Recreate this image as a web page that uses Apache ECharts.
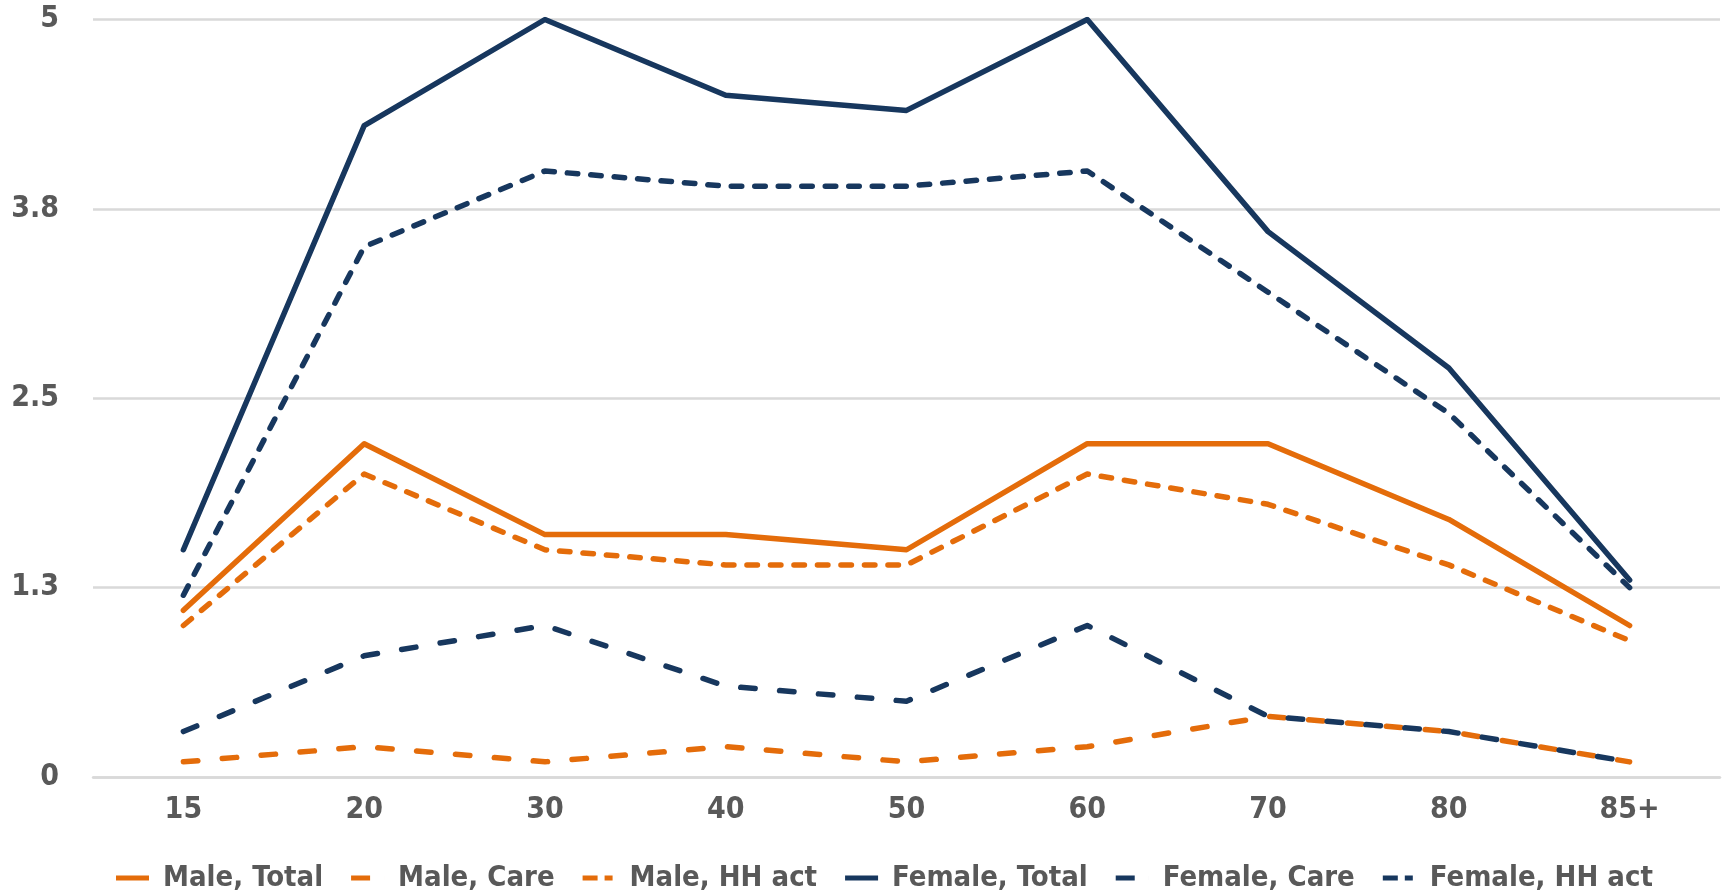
<!DOCTYPE html>
<html>
<head>
<meta charset="utf-8">
<script src="https://cdn.jsdelivr.net/npm/echarts@6/dist/echarts.min.js"></script>
<style>
html,body{margin:0;padding:0;background:#fff;}
#chart{width:1729px;height:893px;}
</style>
</head>
<body>
<div id="chart"></div>
<script>
const categories = ['15','20','30','40','50','60','70','80','85+'];
const maleTotal   = [1.1, 2.2, 1.6, 1.6, 1.5, 2.2, 2.2, 1.7, 1.0];
const maleCare    = [0.1, 0.2, 0.1, 0.2, 0.1, 0.2, 0.4, 0.3, 0.1];
const maleHH      = [1.0, 2.0, 1.5, 1.4, 1.4, 2.0, 1.8, 1.4, 0.9];
const femaleTotal = [1.5, 4.3, 5.0, 4.5, 4.4, 5.0, 3.6, 2.7, 1.3];
const femaleCare  = [0.3, 0.8, 1.0, 0.6, 0.5, 1.0, 0.4, 0.3, 0.1];
const femaleHH    = [1.2, 3.5, 4.0, 3.9, 3.9, 4.0, 3.2, 2.4, 1.25];
const yTickLabels = {0:'0', 1.25:'1.3', 2.5:'2.5', 3.75:'3.8', 5:'5'};

const ORANGE = '#E46C0A';
const NAVY = '#17375E';
const TEXT = '#595959';
const FONT = 'DejaVu Sans Condensed';

const ICON_SOLID = 'path://M0,0H33V5H0Z';
const ICON_CARE  = 'path://M0,0H19V5H0Z M32.99,0H33V5H32.99Z';
const ICON_HH    = 'path://M0,0H15V5H0Z M22,0H30V5H22Z M32.99,0H33V5H32.99Z';

function mk(name, data, color, type) {
  const ls = {color: color, width: 5.5, cap: 'round', join: 'round'};
  if (type === 'care') { ls.type = [14.5, 24.5]; }
  else if (type === 'hh') { ls.type = [10.5, 13]; }
  else { ls.type = 'solid'; }
  return {
    name: name, type: 'line', data: data, symbol: 'none', showSymbol: false,
    lineStyle: ls, itemStyle: {color: color}, animation: false
  };
}

const chart = echarts.init(document.getElementById('chart'));
chart.setOption({
  backgroundColor: '#fff',
  animation: false,
  grid: {left: 93, right: 9, top: 19.5, bottom: 116, containLabel: false},
  legend: {
    top: 857, left: 111,
    itemWidth: 33, itemHeight: 5, itemGap: 28, symbolKeepAspect: false,
    textStyle: {color: TEXT, fontFamily: FONT, fontWeight: 'bold', fontSize: 29, lineHeight: 32, padding: [0,0,0,9]},
    data: [
      {name: 'Male, Total', icon: ICON_SOLID},
      {name: 'Male, Care', icon: ICON_CARE},
      {name: 'Male, HH act', icon: ICON_HH},
      {name: 'Female, Total', icon: ICON_SOLID},
      {name: 'Female, Care', icon: ICON_CARE},
      {name: 'Female, HH act', icon: ICON_HH}
    ]
  },
  xAxis: {
    type: 'category', data: categories, boundaryGap: true,
    axisLine: {show: true, lineStyle: {color: '#D9D9D9', width: 2.5}},
    axisTick: {show: false},
    axisLabel: {color: TEXT, fontFamily: FONT, fontWeight: 'bold', fontSize: 30, margin: 18}
  },
  yAxis: {
    type: 'value', min: 0, max: 5, interval: 1.25,
    axisLine: {show: false}, axisTick: {show: false},
    splitLine: {lineStyle: {color: '#D9D9D9', width: 2.5}},
    axisLabel: {color: TEXT, fontFamily: FONT, fontWeight: 'bold', fontSize: 30, margin: 34,
      formatter: v => (yTickLabels[v] !== undefined ? yTickLabels[v] : String(v))}
  },
  series: [
    mk('Male, Total', maleTotal, ORANGE, 'solid'),
    mk('Male, Care', maleCare, ORANGE, 'care'),
    mk('Male, HH act', maleHH, ORANGE, 'hh'),
    mk('Female, Total', femaleTotal, NAVY, 'solid'),
    mk('Female, Care', femaleCare, NAVY, 'care'),
    mk('Female, HH act', femaleHH, NAVY, 'hh')
  ]
});
</script>
</body>
</html>
